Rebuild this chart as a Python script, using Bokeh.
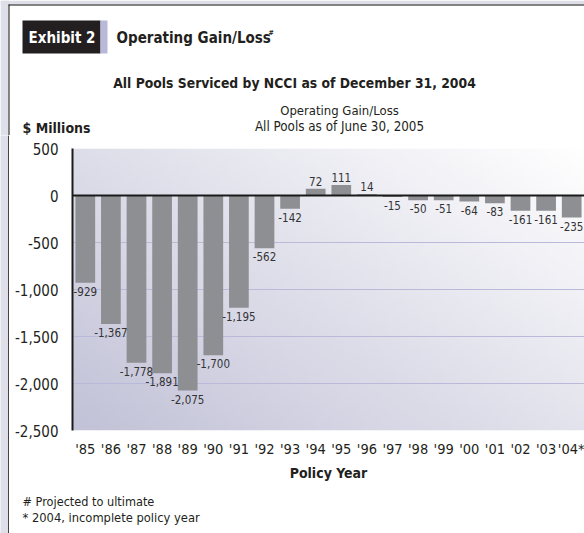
import numpy as np
from bokeh.plotting import figure
from bokeh.layouts import column, row
from bokeh.models import (Range1d, FixedTicker, NumeralTickFormatter, Span, Label,
                          ColumnDataSource)
from bokeh.core.properties import value
from bokeh.embed import file_html
from bokeh.resources import INLINE

# ---- data ----
years = ["'85", "'86", "'87", "'88", "'89", "'90", "'91", "'92", "'93", "'94",
         "'95", "'96", "'97", "'98", "'99", "'00", "'01", "'02", "'03", "'04*"]
gain_loss = [-929, -1367, -1778, -1891, -2075, -1700, -1195, -562, -142, 72,
             111, 14, -15, -50, -51, -64, -83, -161, -161, -235]
y_ticks = [500, 0, -500, -1000, -1500, -2000, -2500]

FONT = "'DejaVu Sans Condensed', 'Liberation Sans', sans-serif"
TXT = "#231f20"
LAV = "#dfdfea"
W = 584
SW = 9                      # width of the page-edge strip
H1, H2, H3 = 135, 355, 43   # header / chart / footer heights (sum 533)


def blank_fig(w, h, bg="white"):
    f = figure(width=w, height=h, x_range=Range1d(0, w), y_range=Range1d(h, 0),
               output_backend="svg", toolbar_location=None,
               min_border=0, x_axis_location=None, y_axis_location=None)
    f.frame_align = False
    f.outline_line_color = None
    f.grid.visible = False
    f.border_fill_color = bg
    f.background_fill_color = bg
    return f


def box(f, x0, y0, x1, y1, color):
    f.quad(left=[x0], right=[x1], top=[y0], bottom=[y1],
           fill_color=color, fill_alpha=1, line_color=None)


def lab(f, text, x, y, size, bold=False, color=TXT, align="left"):
    f.add_layout(Label(x=x, y=y, text=text,
                       text_font=FONT, text_font_size=f"{size}px",
                       text_font_style="bold" if bold else "normal",
                       text_color=color, text_align=align, text_baseline="middle"))


# ---------------- header ----------------
hd = blank_fig(W, H1)
box(hd, 0, 0, 8, H1, LAV)
box(hd, 0, 0, W, 4, LAV)
box(hd, 8, 4, W, 5, "#111111")
box(hd, 8, 4, 9, H1, "#111111")
box(hd, 22, 20, 100, 53, "#231f20")
box(hd, 100, 20, 107, 53, "#b8b8d8")
lab(hd, "Exhibit 2", 28, 37, 15, bold=True, color="white")
lab(hd, "Operating Gain/Loss", 116, 37, 15, bold=True)
lab(hd, "#", 268, 32, 7, bold=True)
lab(hd, "All Pools Serviced by NCCI as of December 31, 2004", 294, 82, 13.8, bold=True, align="center")
lab(hd, "$ Millions", 22, 127, 14, bold=True)
lab(hd, "Operating Gain/Loss", 339, 110, 13, align="center")
lab(hd, "All Pools as of June 30, 2005", 339, 126, 13.3, align="center")

# ---------------- left page edge below the header ----------------
st = blank_fig(SW, H2 + H3, bg=LAV)
box(st, 8, 0, 9, H2 + H3, "#111111")
st.add_layout(Span(location=8.5, dimension="height", line_color="#111111", line_width=1))

# ---------------- chart ----------------
FL, FT, FBOT = 72 - SW, 13, 60
p = figure(width=W - SW, height=H2, x_range=Range1d(0, len(years)), y_range=Range1d(-2500, 500),
           output_backend="svg", toolbar_location=None,
           min_border_left=FL, min_border_right=0, min_border_top=FT, min_border_bottom=FBOT)
p.frame_align = False
p.outline_line_color = None
p.border_fill_color = "white"
p.background_fill_color = "white"

# gradient background of plot area (style only)
ny, nx = 60, 120
u = np.linspace(0, 1, nx)[None, :]
v = np.linspace(0, 1, ny)[:, None]
t = np.clip(0.55 * u + 0.45 * v, 0, 1)
dark = np.array([0xc2, 0xc2, 0xd8], dtype=float)
light = np.array([0xff, 0xff, 0xff], dtype=float)
rgb = dark[None, None, :] + (light - dark)[None, None, :] * t[..., None]
img = np.empty((ny, nx), dtype=np.uint32)
view = img.view(dtype=np.uint8).reshape((ny, nx, 4))
view[..., :3] = rgb.astype(np.uint8)
view[..., 3] = 255
p.image_rgba(image=[img], x=0, y=-2500, dw=len(years), dh=3000, level="image")

xs = np.arange(len(years)) + 0.5
p.vbar(x=xs, top=gain_loss, bottom=0, width=0.77, fill_color="#8e8f93", line_color=None)

labels = [f"{v_:,}" for v_ in gain_loss]
neg = [i for i, v_ in enumerate(gain_loss) if v_ < 0]
pos = [i for i, v_ in enumerate(gain_loss) if v_ >= 0]
src_neg = ColumnDataSource(dict(x=[xs[i] for i in neg], y=[gain_loss[i] for i in neg], t=[labels[i] for i in neg]))
src_pos = ColumnDataSource(dict(x=[xs[i] for i in pos], y=[gain_loss[i] for i in pos], t=[labels[i] for i in pos]))
p.text(x="x", y="y", text="t", source=src_neg, text_align="center", text_baseline="top", y_offset=4,
       text_font=value(FONT), text_font_size="11.5px", text_color="#333333")
p.text(x="x", y="y", text="t", source=src_pos, text_align="center", text_baseline="bottom", y_offset=-3,
       text_font=value(FONT), text_font_size="11.5px", text_color="#333333")

p.add_layout(Span(location=0, dimension="width", line_color="#1a1a1a", line_width=2))

p.xgrid.grid_line_color = None
p.ygrid.grid_line_color = "#b9b9d9"
p.ygrid.grid_line_width = 1
p.ygrid.level = "underlay"

ya = p.yaxis[0]
ya.ticker = FixedTicker(ticks=y_ticks)
ya.formatter = NumeralTickFormatter(format="0,0")
ya.axis_line_color = "#1a1a1a"
ya.axis_line_width = 2
ya.major_tick_line_color = None
ya.minor_tick_line_color = None
ya.major_label_standoff = 8
ya.major_label_text_font = FONT
ya.major_label_text_font_size = "15px"
ya.major_label_text_color = TXT

xa = p.xaxis[0]
xa.ticker = FixedTicker(ticks=list(xs))
xa.major_label_overrides = {float(x): y for x, y in zip(xs, years)}
xa.axis_line_color = None
xa.major_tick_line_color = None
xa.minor_tick_line_color = None
xa.major_label_standoff = 4
xa.major_label_text_font = FONT
xa.major_label_text_font_size = "14.5px"
xa.major_label_text_color = TXT
xa.axis_label = "Policy Year"
xa.axis_label_text_font = FONT
xa.axis_label_text_font_size = "14px"
xa.axis_label_text_font_style = "bold"
xa.axis_label_text_color = TXT
xa.axis_label_standoff = 5

# ---------------- footer ----------------
ft = blank_fig(W - SW, H3)
lab(ft, "# Projected to ultimate", 22 - SW, 501 - (H1 + H2), 12.6)
lab(ft, "* 2004, incomplete policy year", 22 - SW, 517 - (H1 + H2), 12.8)

layout = column(hd, row(st, column(p, ft, spacing=0), spacing=0), spacing=0)
open("out.html", "w").write(file_html(layout, INLINE))
